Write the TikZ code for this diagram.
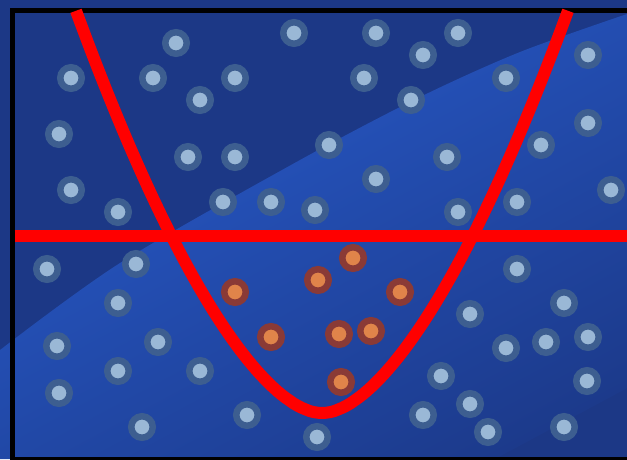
\documentclass[tikz,border=0pt]{standalone}
\usetikzlibrary{positioning}
\definecolor{bgDark}{HTML}{1C3886}
\definecolor{bgLight}{HTML}{2450B6}
\definecolor{bgDeep}{HTML}{1C3A8B}
\definecolor{dotCore}{HTML}{9AB8D6}
\definecolor{dotRing}{HTML}{3D5E90}
\definecolor{hotCore}{HTML}{E0844A}
\definecolor{hotRing}{HTML}{8A3A36}
\definecolor{cutRed}{HTML}{FF0000}

\begin{document}
\begin{tikzpicture}[x=1pt, y=-1pt,
    dot/.style={circle, fill=dotCore, draw=dotRing, line width=6.5pt, minimum size=21.5pt, inner sep=0pt},
    hot/.style={dot, fill=hotCore, draw=hotRing},
    cut/.style={draw=cutRed, line width=12pt}]
    \useasboundingbox (0,0) rectangle (627,459);
    \clip (0,0) rectangle (627,459);
    \fill[bgDark] (0,0) rectangle (627,459);
    \begin{scope}
      \clip plot[smooth] coordinates {(0,350) (120,263) (300,160) (420,97) (520,52) (627,14)}
        -- (627,459) -- (0,459) -- cycle;
      \begin{scope}[transform canvas={shift={(0,350)}, rotate=28.2}]
        \shade[top color=bgLight, bottom color=bgDeep] (-200,-40) rectangle (900,330);
      \end{scope}
    \end{scope}
    \draw[black, line width=4.5pt] (640,10.5) -- (12.25,10.5) -- (12.25,459) -- (640,459);

    \foreach \x/\y [count=\i] in {176/43, 294/33, 376/33, 458/33, 423/55, 588/55, 71/78, 153/78,
        235/78, 364/78, 506/78, 200/100, 411/100, 59/134, 329/145, 541/145, 588/123, 188/157,
        235/157, 447/157, 376/179, 71/190, 611/190, 118/212, 223/202, 271/202, 315/210, 458/212,
        517/202, 47/269, 136/264, 517/269, 118/303, 564/303, 470/314, 57/346, 158/342, 506/348,
        546/342, 588/337, 118/371, 200/371, 441/376, 587/381, 59/393, 470/404, 247/415, 423/415,
        142/427, 488/432, 564/427, 317/437}{
      \node[dot] (d\i) at (\x,\y) {};
    }
    \foreach \x/\y [count=\i] in {353/258, 318/280, 235/292, 400/292, 271/337, 339/334, 371/331, 341/382}{
      \node[hot] (h\i) at (\x,\y) {};
    }

    \coordinate (hl) at (14.5,236);
    \coordinate (hr) at (627,236);
    \draw[cut] (hl) -- (hr);
    \draw[cut] plot[domain=-246:246, samples=121, variable=\t]
      ({322+\t}, {419.46-92.05*pow((\t/100)^2+0.04,0.825)});
  \end{tikzpicture}
\end{document}
